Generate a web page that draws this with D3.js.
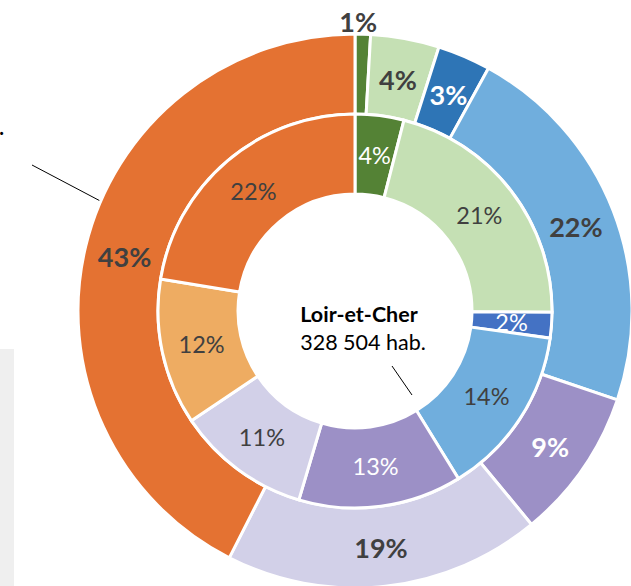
<!DOCTYPE html>
<html>
<head>
<meta charset="utf-8">
<script src="https://cdn.jsdelivr.net/npm/d3@7"></script>
<style>
  html, body { margin: 0; padding: 0; background: #fff; }
  svg { display: block; }
  text { font-family: Lato, "Open Sans", sans-serif; }
</style>
</head>
<body>
<svg id="chart" width="631" height="586"></svg>
<script>
// Outer ring (clockwise from top)
const outerCategories = ["c1", "c2", "c3", "c4", "c5", "c6", "c7"];
const outerValues = [0.9, 4.0, 3.1, 22.2, 8.8, 18.5, 42.5];
const outerColors = ["#548235", "#C5E0B4", "#2E75B6", "#70AEDD", "#9C90C6", "#D2D0E8", "#E47232"];
const outerLabelColors = ["#404040", "#404040", "#ffffff", "#404040", "#ffffff", "#404040", "#404040"];

// Inner ring (clockwise from top)
const innerCategories = ["d1", "d2", "d3", "d4", "d5", "d6", "d7", "d8"];
const innerValues = [4.0, 21.1, 2.1, 14.0, 13.4, 11.0, 12.0, 22.4];
const innerColors = ["#548235", "#C5E0B4", "#4472C4", "#70AEDD", "#9C90C6", "#D2D0E8", "#EEAC62", "#E47232"];
const innerLabelColors = ["#ffffff", "#404040", "#ffffff", "#404040", "#ffffff", "#404040", "#404040", "#404040"];

const centerTitle = "Loir-et-Cher";
const centerSub = "328 504 hab.";

const svg = d3.select("#chart");
const cx = 355, cy = 311;

// partial grey panel at left edge and cropped annotation
svg.append("rect").attr("x", 0).attr("y", 349).attr("width", 14).attr("height", 237).attr("fill", "#EFEFEF");
svg.append("text").attr("x", 4).attr("y", 135).attr("text-anchor", "end")
  .attr("font-size", 20).attr("font-weight", "bold").attr("fill", "#000").text(".");
svg.append("line").attr("x1", 32).attr("y1", 165).attr("x2", 106).attr("y2", 204)
  .attr("stroke", "#000").attr("stroke-width", 1);

const g = svg.append("g").attr("transform", `translate(${cx},${cy})`);

const pie = d3.pie().sort(null).value(d => d);

const outerArc = d3.arc().innerRadius(197).outerRadius(277);
const innerArc = d3.arc().innerRadius(117).outerRadius(197);
const outerLabelArc = d3.arc().innerRadius(237).outerRadius(237);
const innerLabelArc = d3.arc().innerRadius(157).outerRadius(157);
const outsideLabelArc = d3.arc().innerRadius(291).outerRadius(291);

const outerData = pie(outerValues);
const innerData = pie(innerValues);

g.selectAll("path.outer").data(outerData).join("path")
  .attr("class", "outer")
  .attr("d", outerArc)
  .attr("fill", (d, i) => outerColors[i])
  .attr("stroke", "#fff").attr("stroke-width", 3);

g.selectAll("path.inner").data(innerData).join("path")
  .attr("class", "inner")
  .attr("d", innerArc)
  .attr("fill", (d, i) => innerColors[i])
  .attr("stroke", "#fff").attr("stroke-width", 3);

g.selectAll("text.outerLbl").data(outerData).join("text")
  .attr("class", "outerLbl")
  .attr("transform", (d, i) => {
    const c = (i === 0 ? outsideLabelArc : outerLabelArc).centroid(d);
    if (i === 0) c[0] -= 5;
    return `translate(${c[0]},${c[1] + 2})`;
  })
  .attr("text-anchor", "middle").attr("dy", "0.36em")
  .attr("font-size", 27).attr("font-weight", "bold")
  .attr("fill", (d, i) => outerLabelColors[i])
  .text(d => Math.round(d.data) + "%");

g.selectAll("text.innerLbl").data(innerData).join("text")
  .attr("class", "innerLbl")
  .attr("transform", d => `translate(${innerLabelArc.centroid(d)})`)
  .attr("text-anchor", "middle").attr("dy", "0.36em")
  .attr("font-size", 23.5)
  .attr("fill", (d, i) => innerLabelColors[i])
  .text(d => Math.round(d.data) + "%");

// center text
g.append("text").attr("x", 4).attr("y", 11).attr("text-anchor", "middle")
  .attr("font-size", 21.5).attr("font-weight", "bold").attr("fill", "#000").text(centerTitle);
g.append("text").attr("x", 8).attr("y", 39).attr("text-anchor", "middle")
  .attr("font-size", 21.5).attr("fill", "#000").text(centerSub);

// leader line in center
svg.append("line").attr("x1", 392).attr("y1", 366).attr("x2", 412).attr("y2", 395)
  .attr("stroke", "#000").attr("stroke-width", 1);
</script>
</body>
</html>
